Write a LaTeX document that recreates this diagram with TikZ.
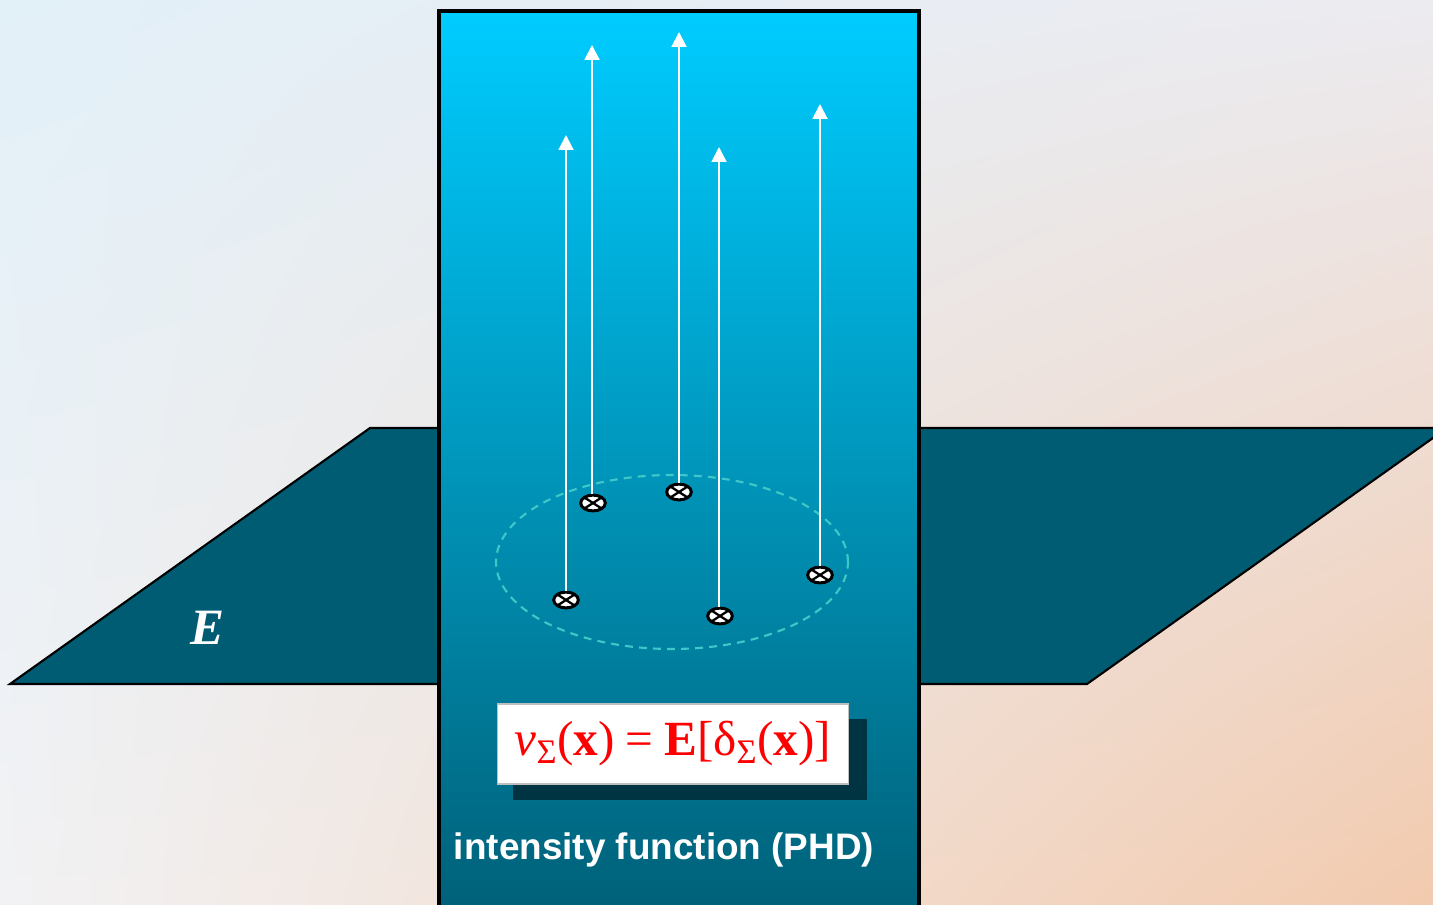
\documentclass[tikz,border=0pt]{standalone}
\usepackage{fontspec}
\setmainfont{Liberation Serif}
\setsansfont{Liberation Sans}
\usetikzlibrary{arrows.meta,shapes.geometric,shadings}
\definecolor{Sky}{RGB}{0,204,255}
\definecolor{Deep}{RGB}{0,96,120}
\definecolor{Plane}{RGB}{0,92,115}
\definecolor{Ring}{RGB}{64,200,200}
\definecolor{Shade}{RGB}{0,52,66}
\definecolor{BgNW}{RGB}{226,240,248}
\definecolor{BgNE}{RGB}{236,235,240}
\definecolor{BgSW}{RGB}{242,242,244}
\definecolor{BgSE}{RGB}{242,202,174}
\tikzset{target/.style={ellipse,draw=black,line width=1.7pt,fill=white,minimum width=14pt,minimum height=9pt,inner sep=0pt,
  path picture={\draw[line width=1.3pt] (path picture bounding box.north west) -- (path picture bounding box.south east)
    (path picture bounding box.north east) -- (path picture bounding box.south west);}},
  track/.style={-{Triangle[length=8.5pt,width=8.5pt]},draw=white,line width=1.2pt},
  formulabox/.style={fill=white,draw=gray!50,line width=1pt,minimum width=7.02cm,minimum height=1.6cm,inner sep=0pt}}

\begin{document}
\begin{tikzpicture}[x=0.02cm,y=-0.02cm]
\useasboundingbox (0,0) rectangle (1433,905);
\clip (0,0) rectangle (1433,905);
\shade[upper left=BgNW,upper right=BgNE,lower left=BgSW,lower right=BgSE] (0,0) rectangle (1433,905);
% the plane E
\draw[fill=Plane,line width=1.2pt] (10,684) -- (1087,684) -- (1447,428) -- (370,428) -- cycle;
\node[text=white,font=\bfseries\itshape\fontsize{29}{30}\selectfont] (space) at (207,628) {E};
% the panel
\draw[line width=2.3pt,top color=Sky,bottom color=Deep] (439,11) rectangle (919,915);
\node[ellipse,draw=Ring,dashed,dash pattern=on 4.5pt off 3.5pt,line width=1.2pt,minimum width=7.04cm,minimum height=3.48cm] (swarm) at (672,562) {};
\node[target] (m1) at (566,600) {};
\node[target] (m2) at (593,503) {};
\node[target] (m3) at (679,492) {};
\node[target] (m4) at (720,616) {};
\node[target] (m5) at (820,575) {};
\coordinate (t1) at (566,135);
\coordinate (t2) at (592,45);
\coordinate (t3) at (679,32);
\coordinate (t4) at (719,147);
\coordinate (t5) at (820,104);
\foreach \i in {1,...,5} \draw[track] (m\i.north -| t\i) -- (t\i);
% formula with its shadow
\coordinate (fc) at (673,744);
\path (fc) +(-160.5,-25) coordinate (sa) +(193.5,56) coordinate (sb);
\fill[Shade] (sa) rectangle (sb);
\node[formulabox,text=red,font=\fontsize{28}{30}\selectfont] (formula) at (fc)
  {\textit{v}\textsubscript{Σ}(\textbf{x})\hspace{0.22em}=\hspace{0.22em}\textbf{E}[δ\textsubscript{Σ}(\textbf{x})]};
\node[text=white,font=\sffamily\bfseries\fontsize{21}{24}\selectfont] (caption) at (664,850) {intensity function (PHD)};
\end{tikzpicture}
\end{document}
